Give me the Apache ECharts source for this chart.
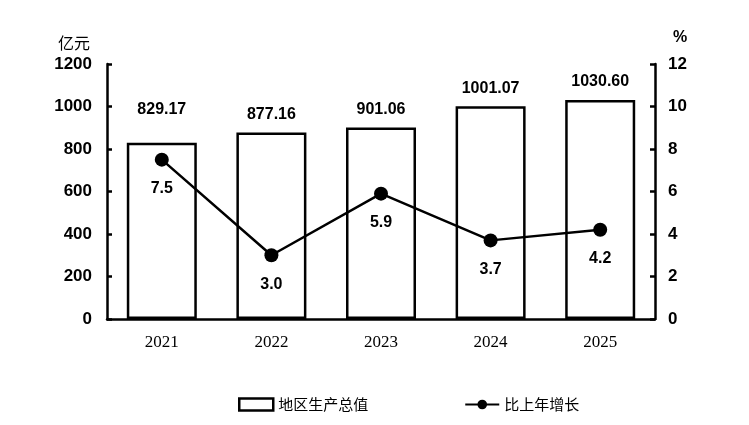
<!DOCTYPE html>
<html>
<head>
<meta charset="utf-8">
<script src="https://cdn.jsdelivr.net/npm/echarts@6/dist/echarts.min.js"></script>
<style>
html,body{margin:0;padding:0;background:#fff;}
#main{width:749px;height:425px;}
</style>
</head>
<body>
<div id="main"></div>
<script>
var years=['2021','2022','2023','2024','2025'];
var gdp=[829.17,877.16,901.06,1001.07,1030.60];
var growth=[7.5,3.0,5.9,3.7,4.2];
var gdpLabels=['829.17','877.16','901.06','1001.07','1030.60'];
var growthLabels=['7.5','3.0','5.9','3.7','4.2'];

var chart=echarts.init(document.getElementById('main'));
var boldNum={fontFamily:'Liberation Sans',fontWeight:'bold',fontSize:16,color:'#000'};

// 2021 的柱顶标签比其他的高一点
var barData=gdp.map(function(v,i){
	var item={value:v};
	if(i==0){item.label={offset:[0,-15]};}
	return item;
});

var option={
	animation:false,
	grid:{left:107,right:94,top:64,bottom:106},
	legend:{
		left:233,top:392,itemGap:96,
		textStyle:{fontFamily:'Noto Sans CJK SC',fontSize:15,color:'#000'},
		data:[
			{name:'地区生产总值',icon:'rect',itemStyle:{color:'#fff',borderColor:'#000',borderWidth:2.5}},
			{name:'比上年增长'}
		],
		itemWidth:34,itemHeight:12
	},
	xAxis:{
		type:'category',data:years,
		axisLine:{lineStyle:{color:'#000',width:2.5}},
		axisTick:{inside:true,length:5,lineStyle:{color:'#000',width:2.5}},
		axisLabel:{fontFamily:'Liberation Serif',fontSize:17,color:'#000',margin:15}
	},
	yAxis:[{
		type:'value',min:0,max:1200,interval:200,
		name:'亿元',nameLocation:'end',nameGap:21,
		nameTextStyle:{fontFamily:'Noto Sans CJK SC',fontSize:16,color:'#000',align:'right',verticalAlign:'middle',padding:[0,17,0,0]},
		axisLine:{show:true,lineStyle:{color:'#000',width:2.5}},
		axisTick:{show:true,inside:true,length:5,lineStyle:{color:'#000',width:2.5}},
		axisLabel:Object.assign({margin:15,fontSize:17,formatter:function(v){return String(v);}},{fontFamily:'Liberation Sans',fontWeight:'bold',color:'#000'}),
		splitLine:{show:false}
	},{
		type:'value',min:0,max:12,interval:2,
		name:'%',nameLocation:'end',nameGap:26,
		nameTextStyle:{fontFamily:'Liberation Sans',fontWeight:'bold',fontSize:16,color:'#000',align:'left',verticalAlign:'middle',padding:[0,0,0,18]},
		axisLine:{show:true,lineStyle:{color:'#000',width:2.5}},
		axisTick:{show:true,inside:true,length:5,lineStyle:{color:'#000',width:2.5}},
		axisLabel:{margin:13,fontSize:17,fontFamily:'Liberation Sans',fontWeight:'bold',color:'#000'},
		splitLine:{show:false}
	}],
	series:[{
		name:'地区生产总值',type:'bar',data:barData,barWidth:70,
		itemStyle:{color:'#fff',borderColor:'#000',borderWidth:2.5},
		label:Object.assign({show:true,position:'top',distance:10,formatter:function(p){return gdpLabels[p.dataIndex];}},boldNum)
	},{
		name:'比上年增长',type:'line',yAxisIndex:1,data:growth,
		symbol:'circle',symbolSize:14,
		lineStyle:{color:'#000',width:2.5},
		itemStyle:{color:'#000'},
		label:Object.assign({show:true,position:'bottom',distance:14,formatter:function(p){return growthLabels[p.dataIndex];}},boldNum)
	}]
};
chart.setOption(option,true);
</script>
</body>
</html>
